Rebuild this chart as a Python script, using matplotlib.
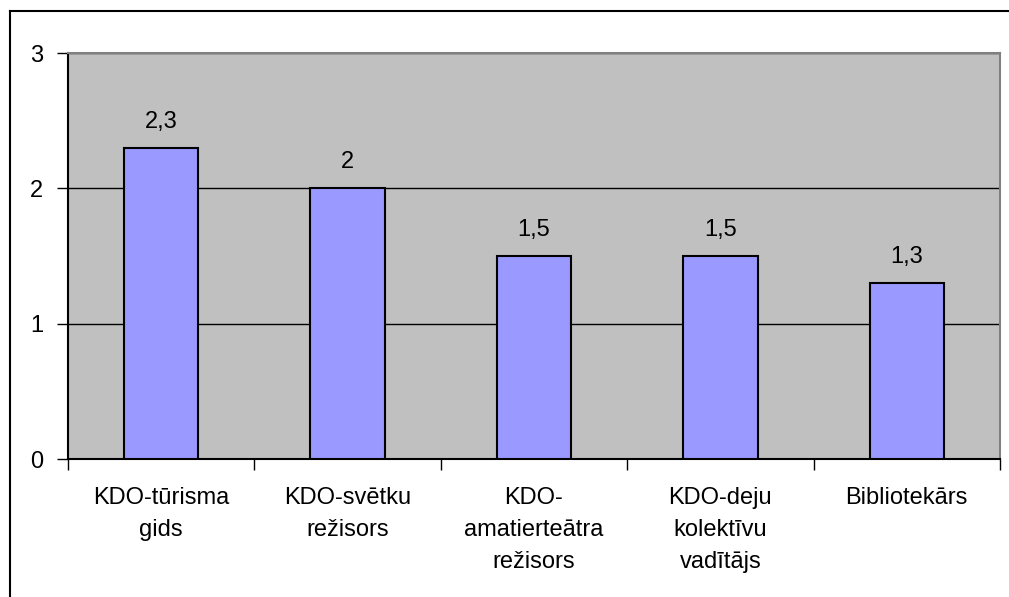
import numpy as np
import matplotlib
matplotlib.use("Agg")
import matplotlib.pyplot as plt
from matplotlib.lines import Line2D

categories = ["KDO-tūrisma\ngids", "KDO-svētku\nrežisors", "KDO-\namatierteātra\nrežisors",
              "KDO-deju\nkolektīvu\nvadītājs", "Bibliotekārs"]
values = [2.3, 2.0, 1.5, 1.5, 1.3]
yticks = [0, 1, 2, 3]

plt.rcParams['font.family'] = ['Liberation Sans', 'DejaVu Sans']

W, H = 1009, 597
fig = plt.figure(figsize=(W / 100, H / 100), dpi=100)
ax = fig.add_axes([68 / W, (H - 459) / H, 932 / W, 406 / H])
ax.set_facecolor('#c0c0c0')

x = np.arange(len(categories))
bars = ax.bar(x, values, width=0.4, color='#9999ff', edgecolor='black', linewidth=1.5, zorder=3)
for b, v in zip(bars, values):
    ax.annotate(f"{v:g}".replace('.', ','), (b.get_x() + b.get_width() / 2, v),
                xytext=(0, 20), textcoords='offset pixels', ha='center', va='baseline',
                fontsize=17)

ax.set_xlim(-0.5, len(categories) - 0.5)
ax.set_ylim(0, 3)
ax.set_yticks(yticks)
ax.set_yticklabels([str(t) for t in yticks], fontsize=17)
ax.tick_params(axis='y', direction='out', length=8, width=1, pad=10)
ax.yaxis.grid(True, color='black', linewidth=1, zorder=1)
ax.set_axisbelow(True)

ax.set_xticks(np.arange(len(categories) + 1) - 0.5)
ax.set_xticklabels([])
ax.tick_params(axis='x', which='major', direction='out', length=8, width=1)
ax.set_xticks(x, minor=True)
ax.set_xticklabels(categories, minor=True, fontsize=17, linespacing=1.6)
ax.tick_params(axis='x', which='minor', length=0, pad=20)

ax.spines['left'].set_color('black')
ax.spines['bottom'].set_color('black')
ax.spines['top'].set_color('#808080')
ax.spines['right'].set_color('#808080')
for s in ax.spines.values():
    s.set_linewidth(1.5)

# outer chart border (cut off at right and bottom)
fig.add_artist(Line2D([10 / W, 10 / W], [0, 1 - 11 / H], color='black', linewidth=1.5))
fig.add_artist(Line2D([10 / W, 1], [1 - 11 / H, 1 - 11 / H], color='black', linewidth=1.5))

fig.savefig('out.png', dpi=100)
